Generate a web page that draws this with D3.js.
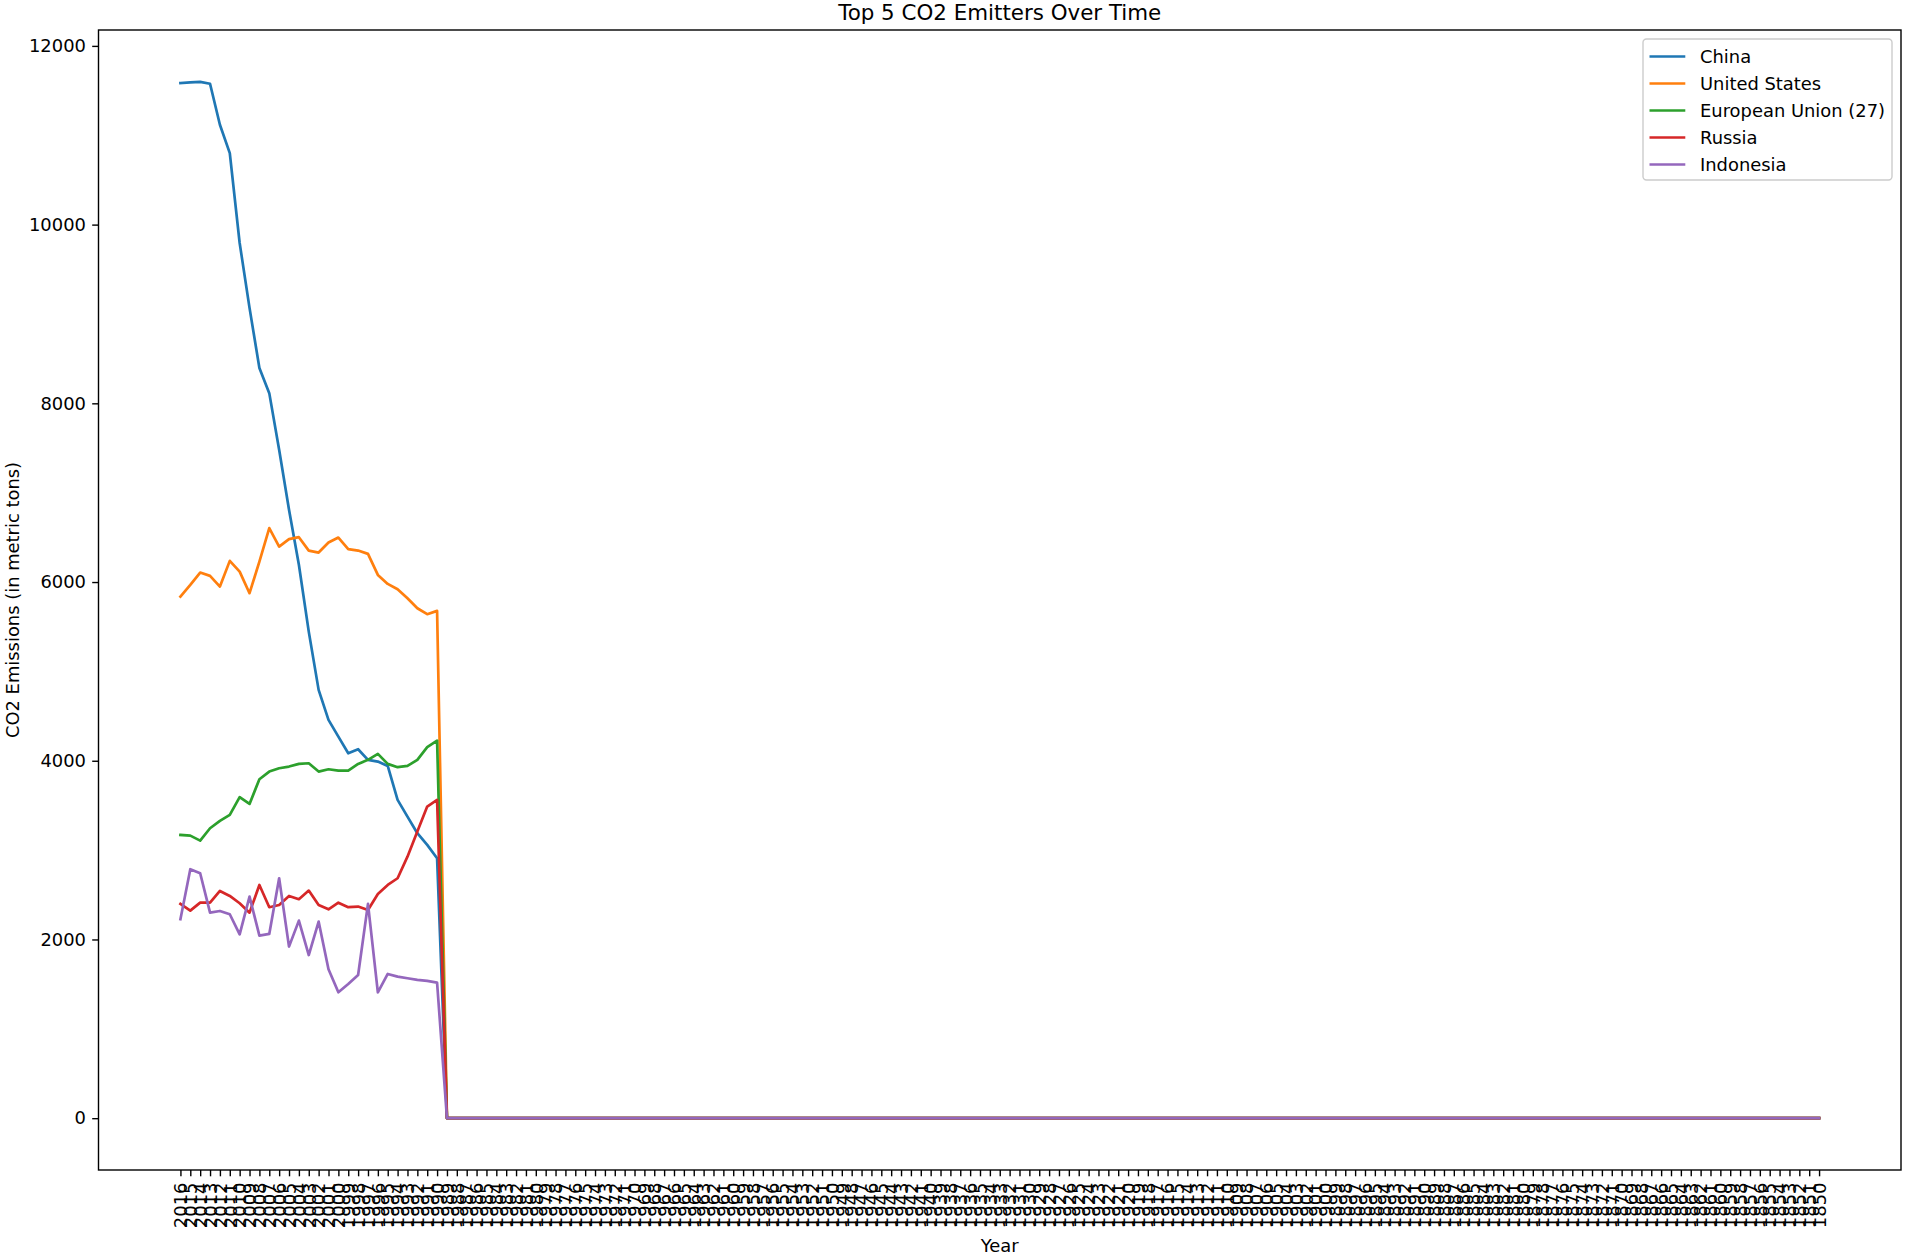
<!DOCTYPE html>
<html>
<head>
<meta charset="utf-8">
<script src="https://cdn.jsdelivr.net/npm/d3@7"></script>
<style>
  html, body { margin: 0; padding: 0; background: #fff; }
  svg { display: block; }
  text { font-family: "DejaVu Sans", sans-serif; fill: #000; }
</style>
</head>
<body>
<svg id="chart" width="1907" height="1254"></svg>
<script>
// ---- data ----
const years = d3.range(2016, 1849, -1); // 2016 .. 1850 (category labels)
const seriesNames = ["China", "United States", "European Union (27)", "Russia", "Indonesia"];
const seriesColors = ["#1f77b4", "#ff7f0e", "#2ca02c", "#d62728", "#9467bd"];

// values for 2016 .. 1990 (27 years); all earlier years are 0
const china = [11584, 11591, 11598, 11576, 11117, 10800, 9794, 9068, 8395, 8114, 7481, 6810, 6194, 5445, 4793, 4457, 4270, 4084, 4129, 4010, 3991, 3942, 3562, 3375, 3189, 3058, 2909];
const unitedStates = [5837, 5968, 6106, 6069, 5949, 6237, 6117, 5875, 6229, 6603, 6397, 6480, 6502, 6352, 6330, 6442, 6498, 6368, 6352, 6315, 6080, 5979, 5920, 5819, 5707, 5640, 5677];
const europeanUnion = [3170, 3162, 3106, 3245, 3327, 3394, 3592, 3517, 3793, 3879, 3916, 3935, 3965, 3972, 3879, 3905, 3890, 3890, 3965, 4010, 4077, 3965, 3928, 3942, 4010, 4152, 4226];
const russia = [2398, 2323, 2412, 2412, 2543, 2487, 2405, 2300, 2610, 2361, 2386, 2487, 2450, 2547, 2386, 2338, 2412, 2361, 2368, 2330, 2509, 2610, 2685, 2927, 3207, 3487, 3562];
const indonesia = [2226, 2786, 2741, 2300, 2319, 2282, 2058, 2480, 2043, 2062, 2685, 1920, 2211, 1826, 2200, 1667, 1409, 1502, 1603, 2398, 1409, 1614, 1584, 1566, 1547, 1536, 1517];

const seriesValues = [china, unitedStates, europeanUnion, russia, indonesia];

// ---- layout ----
const svg = d3.select("#chart");
const m = { left: 98.5, right: 1901, top: 30, bottom: 1170 };
const FS = 17.9;

const x = d3.scalePoint().domain(years).range([m.left, m.right]).padding(8.3);
const allVals = seriesValues.flat();
const vmax = d3.max(allVals), vmin = 0;
const pad = (vmax - vmin) * 0.05;
const y = d3.scaleLinear().domain([vmin - pad, vmax + pad]).range([m.bottom, m.top]);

// build full series (0 for years before 1990)
const series = seriesNames.map((name, k) => ({
  name, color: seriesColors[k],
  values: years.map((yr, i) => ({ year: yr, v: i < seriesValues[k].length ? seriesValues[k][i] : 0 }))
}));

// lines
const line = d3.line().x(d => x(d.year)).y(d => y(d.v));
svg.append("g").selectAll("path").data(series).join("path")
  .attr("d", d => line(d.values))
  .attr("fill", "none")
  .attr("stroke", d => d.color)
  .attr("stroke-width", 2.7)
  .attr("stroke-linejoin", "round")
  .attr("stroke-linecap", "square");

// axes
const tickLen = 6.3, tickPad = 6.3;
const xAxis = d3.axisBottom(x).tickSize(tickLen).tickPadding(tickPad).tickFormat(d3.format("d"));
const gx = svg.append("g").attr("transform", `translate(0,${m.bottom})`).call(xAxis);
gx.select(".domain").remove();
gx.selectAll(".tick line").attr("stroke", "#000").attr("stroke-width", 1.4);
gx.selectAll(".tick text")
  .attr("font-family", "DejaVu Sans")
  .attr("font-size", FS)
  .attr("fill", "#000")
  .attr("text-anchor", "end")
  .attr("y", 0).attr("x", 0).attr("dy", "0.35em")
  .attr("transform", `translate(0,${tickLen + tickPad}) rotate(-90)`);

const yAxis = d3.axisLeft(y).tickValues([0, 2000, 4000, 6000, 8000, 10000, 12000])
  .tickSize(tickLen).tickPadding(tickPad).tickFormat(d3.format("d"));
const gy = svg.append("g").attr("transform", `translate(${m.left},0)`).call(yAxis);
gy.select(".domain").remove();
gy.selectAll(".tick line").attr("stroke", "#000").attr("stroke-width", 1.4);
gy.selectAll(".tick text").attr("font-family", "DejaVu Sans").attr("font-size", FS).attr("fill", "#000");

// spines
svg.append("rect")
  .attr("x", m.left).attr("y", m.top)
  .attr("width", m.right - m.left).attr("height", m.bottom - m.top)
  .attr("fill", "none").attr("stroke", "#000").attr("stroke-width", 1.4);

// title and axis labels
svg.append("text").attr("x", (m.left + m.right) / 2).attr("y", 20)
  .attr("text-anchor", "middle").attr("font-size", 21.4).text("Top 5 CO2 Emitters Over Time");
svg.append("text").attr("x", (m.left + m.right) / 2).attr("y", 1251.5)
  .attr("text-anchor", "middle").attr("font-size", FS).text("Year");
svg.append("text")
  .attr("transform", `translate(19,${(m.top + m.bottom) / 2}) rotate(-90)`)
  .attr("text-anchor", "middle").attr("font-size", FS).text("CO2 Emissions (in metric tons)");

// legend
const lg = svg.append("g");
const lx = 1643, ly = 39, lw = 249, lh = 141;
lg.append("rect").attr("x", lx).attr("y", ly).attr("width", lw).attr("height", lh)
  .attr("rx", 3.5).attr("fill", "#fff").attr("fill-opacity", 0.8)
  .attr("stroke", "#cccccc").attr("stroke-width", 1.4);
const rows = lg.selectAll("g.row").data(series).join("g").attr("class", "row")
  .attr("transform", (d, i) => `translate(${lx + 6.5},${ly + 17.5 + i * 27})`);
rows.append("line").attr("x1", 0).attr("x2", 35.8).attr("y1", 0).attr("y2", 0)
  .attr("stroke", d => d.color).attr("stroke-width", 2.7);
rows.append("text").attr("x", 50.5).attr("y", 0).attr("dy", "0.35em")
  .attr("font-size", FS).text(d => d.name);
</script>
</body>
</html>
